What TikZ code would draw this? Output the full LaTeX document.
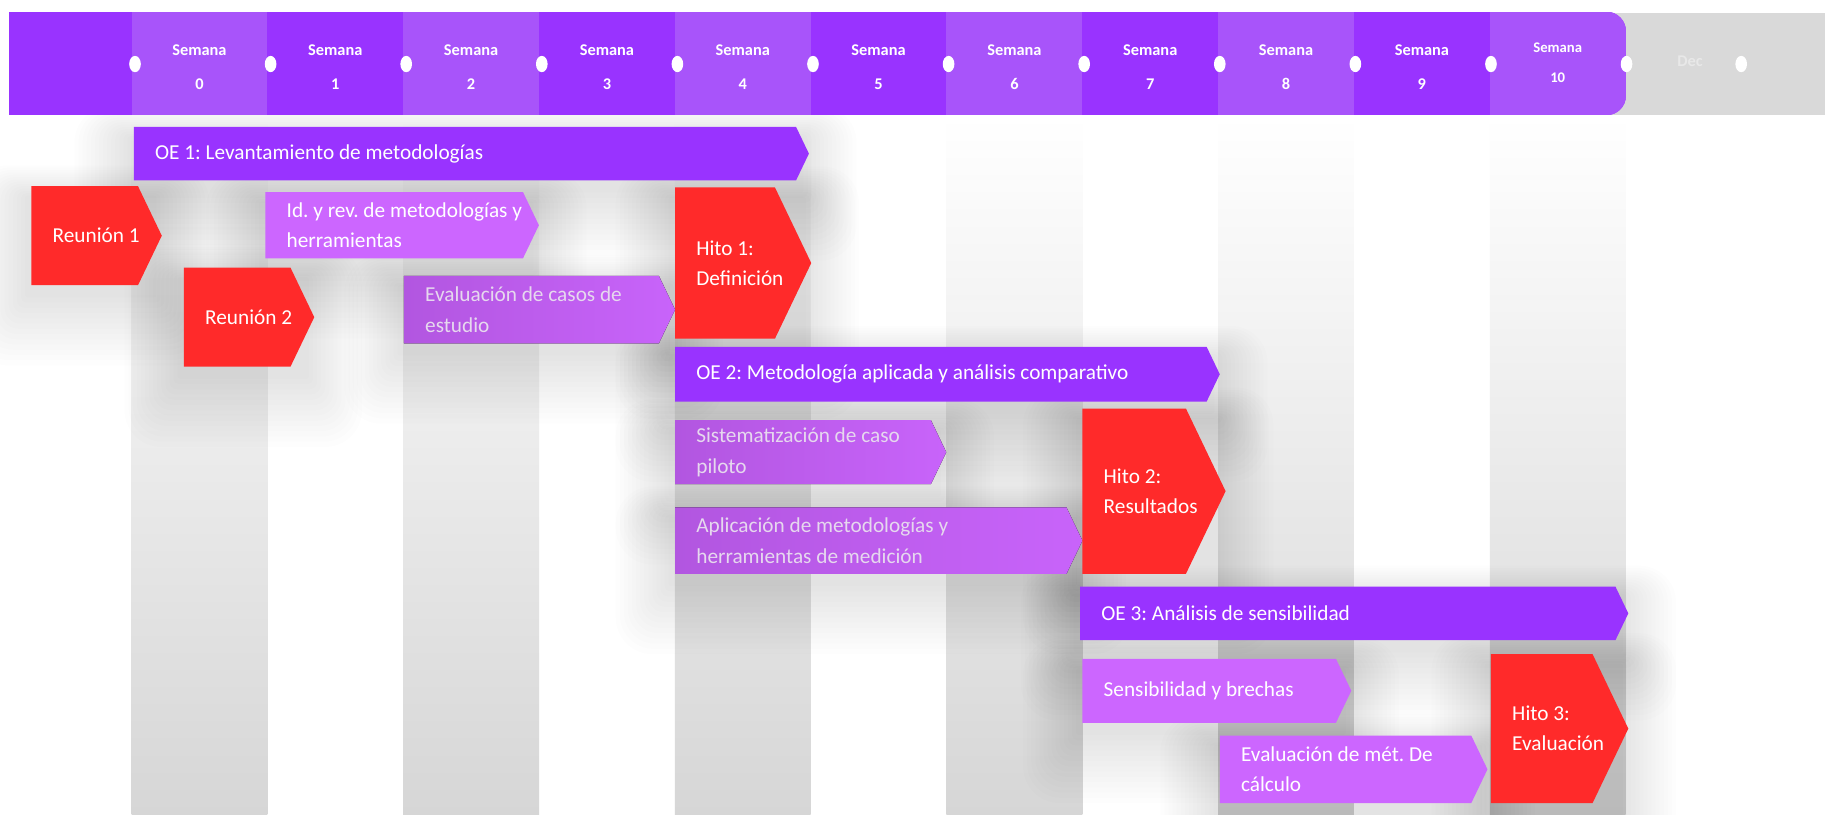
\documentclass[tikz,border=0pt]{standalone}
\usepackage{fontspec}
\setmainfont{Carlito}
\usepackage{tikz}
\usetikzlibrary{positioning, calc}
\frenchspacing

\definecolor{moradoOsc}{RGB}{153,51,255}
\definecolor{moradoCab}{RGB}{168,84,250}
\definecolor{lila}{RGB}{204,102,255}
\definecolor{lilaMed}{RGB}{178,86,224}
\definecolor{rojoHito}{RGB}{255,42,42}
\definecolor{grisCab}{RGB}{217,217,217}
\definecolor{grisCol}{RGB}{214,214,214}
\definecolor{textoMed}{RGB}{230,216,238}
\definecolor{textoDec}{RGB}{232,232,232}

% 图层：背景条纹、阴影、主体
\pgfdeclarelayer{fondo}
\pgfdeclarelayer{capasombra}
\pgfsetlayers{fondo,capasombra,main}

% 画一个箭头形的任务条：名字, x1, y1, x2(尖端), y2, 填充样式, 文字颜色, 文字
\newcommand{\tarea}[8]{%
  \pgfmathsetmacro\punta{0.24*(#5-#3)}
  \pgfmathsetmacro\ymed{(#3+#5)/2}
  % 柔和的阴影
  \begin{pgfonlayer}{capasombra}
    \foreach \k in {1,...,14} {
      \pgfmathsetmacro\rc{1.6*\k}
      \fill[black, opacity=0.009, rounded corners=\rc pt]
        (#2-3.5*\k-2,#3-2*\k+10) rectangle (#4+3.5*\k-8,#5+4.5*\k+6);
    }
  \end{pgfonlayer}
  \fill[#6] (#2,#3) -- (#4-\punta,#3) -- (#4,\ymed) -- (#4-\punta,#5) -- (#2,#5) -- cycle;
  \node[texto, text=#7] (#1) at (#2+18,\ymed) {#8};
}

\begin{document}
\begin{tikzpicture}[x=0.025cm, y=-0.025cm,
    texto/.style={font=\fontsize{13}{18.5}\selectfont, align=left, inner sep=0pt, anchor=west},
    semana/.style={font=\bfseries\fontsize{10}{12}\selectfont, text=white, inner sep=0pt},
    oscuro/.style={fill=moradoOsc},
    claro/.style={fill=lila},
    medio/.style={left color=lilaMed, right color=lila!85!lilaMed},
    rojo/.style={fill=rojoHito}]
    % 定义列宽和第一列的起点
    \def\colw{116.7}
    \def\colx{113}
    % 固定画布大小
    \useasboundingbox (0,0) rectangle (1568,700);
    % 绘制背景的灰色竖条
    \begin{pgfonlayer}{fondo}
        \fill[white] (0,0) rectangle (1568,700);
        \foreach \i in {0,2,...,10}
            \shade[top color=white, bottom color=grisCol] (\colx+\colw*\i,99) rectangle ++(\colw,601);
    \end{pgfonlayer}
    % 绘制表头（灰色延伸部分）
    \fill[grisCab] (1380,11) rectangle (1568,99);
    % 绘制表头（紫色部分，右端圆角）
    \begin{scope}
        \clip[rounded corners=12] (-20,10) rectangle (1397,99);
        \fill[moradoOsc] (8,10) rectangle (1397,99);
        \foreach \i in {0,2,...,10}
            \fill[moradoCab] (\colx+\colw*\i,10) rectangle ++(\colw,89);
    \end{scope}
    % 表头上的白点
    \foreach \i in {0,...,11}
        \fill[white] (116+116.5*\i,55) ellipse (5 and 7);
    \fill[white] (1496,55) ellipse (5 and 7);
    % 周次标签
    \foreach \i in {0,...,9} {
        \node[semana] (sem\i) at (\colx+\colw*\i+\colw/2,43) {Semana};
        \node[semana] (num\i) at (\colx+\colw*\i+\colw/2,72) {\i};
    }
    \node[semana, font=\bfseries\fontsize{9}{11}\selectfont] (sem10) at (\colx+\colw*10.5,41) {Semana};
    \node[semana, font=\bfseries\fontsize{9}{11}\selectfont] (num10) at (\colx+\colw*10.5,67) {10};
    \node[semana, text=textoDec] (dec) at (1452,53) {Dec};
    % 目标 1 及其任务
    \tarea{oe1}{115}{109}{695}{155}{oscuro}{white}{OE 1: Levantamiento de metodologías}
    \tarea{reunion1}{27}{160}{139}{245}{rojo}{white}{Reunión 1}
    \tarea{idrev}{228}{165}{463}{222}{claro}{white}{Id. y rev. de metodologías y\\herramientas}
    \tarea{reunion2}{158}{230}{270}{315}{rojo}{white}{Reunión 2}
    \tarea{evalcasos}{347}{237}{580}{295}{medio}{textoMed}{Evaluación de casos de\\estudio}
    \tarea{hito1}{580}{161}{697}{291}{rojo}{white}{Hito 1:\\Definición}
    % 目标 2 及其任务
    \tarea{oe2}{580}{298}{1048}{345}{oscuro}{white}{OE 2: Metodología aplicada y análisis comparativo}
    \tarea{sistem}{580}{361}{813}{416}{medio}{textoMed}{Sistematización de caso\\piloto}
    \tarea{aplic}{580}{436}{930}{493}{medio}{textoMed}{Aplicación de metodologías y\\herramientas de medición}
    \tarea{hito2}{930}{351}{1053}{493}{rojo}{white}{Hito 2:\\Resultados}
    % 目标 3 及其任务
    \tarea{oe3}{928}{504}{1399}{550}{oscuro}{white}{OE 3: Análisis de sensibilidad}
    \tarea{sensib}{930}{566}{1161}{621}{claro}{white}{Sensibilidad y brechas}
    \tarea{evalmet}{1048}{632}{1278}{690}{claro}{white}{Evaluación de mét. De\\cálculo}
    \tarea{hito3}{1281}{562}{1399}{690}{rojo}{white}{Hito 3:\\Evaluación}
\end{tikzpicture}
\end{document}
